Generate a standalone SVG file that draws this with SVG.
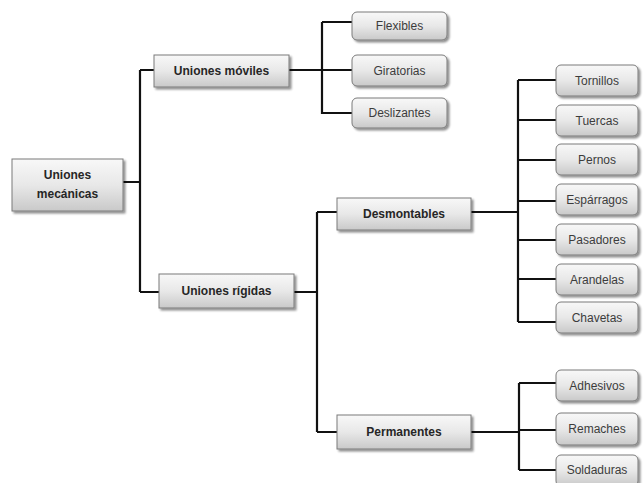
<svg xmlns="http://www.w3.org/2000/svg" width="643" height="483" viewBox="0 0 643 483">
<defs>
<linearGradient id="g" x1="0" y1="0" x2="0" y2="1">
<stop offset="0" stop-color="#f8f8f8"/>
<stop offset="0.5" stop-color="#e8e8e8"/>
<stop offset="1" stop-color="#c9c9c9"/>
</linearGradient>
<filter id="sh" x="-10%" y="-20%" width="125%" height="160%">
<feGaussianBlur in="SourceAlpha" stdDeviation="1.2"/>
<feOffset dx="1.5" dy="2" result="o"/>
<feComponentTransfer><feFuncA type="linear" slope="0.45"/></feComponentTransfer>
<feMerge><feMergeNode/><feMergeNode in="SourceGraphic"/></feMerge>
</filter>
</defs>
<style>
.box{fill:url(#g);stroke:#7a7a7a;stroke-width:1;filter:url(#sh)}
.t{font-family:"Liberation Sans",Arial,sans-serif;text-anchor:middle;dominant-baseline:central}
.b{font-weight:bold;font-size:12px;fill:#262626}
.l{font-size:12px;fill:#3c3c3c}
.c{fill:none;stroke:#111;stroke-width:2.2}
</style>
<rect width="643" height="483" fill="#fff"/>
<g id="connectors" class="c">
<path d="M123 182H140M140 70V292M140 70H154M140 292H159"/>
<path d="M289 70H322M322 22V114M322 22H352M322 70H352M322 113H352"/>
<path d="M294 292H317M317 212V432M317 212H337M317 432H337"/>
<path d="M471 212H518M518 80V322M518 80H556M518 120H556M518 160H556M518 201H556M518 240H556M518 279H556M518 322H556"/>
<path d="M471 432H519M519 383V470M519 383H556M519 430H556M519 470H556"/>
</g>
<g id="n-mecanicas"><rect class="box" x="12" y="159" width="111" height="52"/><text class="t b" x="67.5" y="175">Uniones</text><text class="t b" x="67.5" y="194">mecánicas</text></g>
<g id="n-moviles"><rect class="box" x="154" y="55" width="135" height="32"/><text class="t b" x="221.5" y="71">Uniones móviles</text></g>
<g id="n-rigidas"><rect class="box" x="159" y="274" width="135" height="34"/><text class="t b" x="226.5" y="291">Uniones rígidas</text></g>
<g id="n-desmontables"><rect class="box" x="337" y="198" width="134" height="32"/><text class="t b" x="404" y="214">Desmontables</text></g>
<g id="n-permanentes"><rect class="box" x="337" y="415" width="134" height="34"/><text class="t b" x="404" y="432">Permanentes</text></g>
<g id="n-flexibles"><rect class="box" x="352" y="12" width="95" height="28" rx="5"/><text class="t l" x="399.5" y="26">Flexibles</text></g>
<g id="n-giratorias"><rect class="box" x="352" y="55" width="95" height="31" rx="5"/><text class="t l" x="399.5" y="70.5">Giratorias</text></g>
<g id="n-deslizantes"><rect class="box" x="352" y="98" width="95" height="30" rx="5"/><text class="t l" x="399.5" y="113">Deslizantes</text></g>
<g id="n-tornillos"><rect class="box" x="556" y="65" width="82" height="31" rx="5"/><text class="t l" x="597" y="80.5">Tornillos</text></g>
<g id="n-tuercas"><rect class="box" x="556" y="105" width="82" height="31" rx="5"/><text class="t l" x="597" y="120.5">Tuercas</text></g>
<g id="n-pernos"><rect class="box" x="556" y="144" width="82" height="31" rx="5"/><text class="t l" x="597" y="159.5">Pernos</text></g>
<g id="n-esparragos"><rect class="box" x="556" y="184" width="82" height="31" rx="5"/><text class="t l" x="597" y="199.5">Espárragos</text></g>
<g id="n-pasadores"><rect class="box" x="556" y="224" width="82" height="31" rx="5"/><text class="t l" x="597" y="239.5">Pasadores</text></g>
<g id="n-arandelas"><rect class="box" x="556" y="264" width="82" height="31" rx="5"/><text class="t l" x="597" y="279.5">Arandelas</text></g>
<g id="n-chavetas"><rect class="box" x="556" y="302" width="82" height="31" rx="5"/><text class="t l" x="597" y="317.5">Chavetas</text></g>
<g id="n-adhesivos"><rect class="box" x="556" y="370" width="82" height="31" rx="5"/><text class="t l" x="597" y="385.5">Adhesivos</text></g>
<g id="n-remaches"><rect class="box" x="556" y="413" width="82" height="32" rx="5"/><text class="t l" x="597" y="429">Remaches</text></g>
<g id="n-soldaduras"><rect class="box" x="556" y="455" width="82" height="31" rx="5"/><text class="t l" x="597" y="470">Soldaduras</text></g>
</svg>
